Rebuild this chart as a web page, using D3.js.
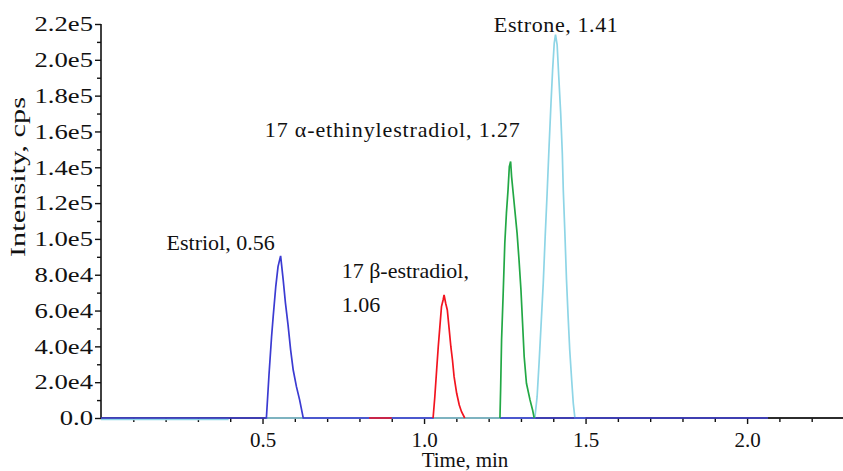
<!DOCTYPE html>
<html>
<head>
<meta charset="utf-8">
<script src="https://cdn.jsdelivr.net/npm/d3@7"></script>
<style>
  html, body { margin: 0; padding: 0; background: #fff; }
  svg { display: block; }
  text { font-family: "Liberation Serif", "Times New Roman", serif; fill: #111; }
</style>
</head>
<body>
<svg id="chart" width="843" height="471"></svg>
<script>
// ---- data (time in min, intensity in cps); null breaks a trace ----
const estriolTime = [0, 0.512, 0.520, 0.528, 0.533, 0.541, 0.548, 0.556, 0.559, 0.564, 0.571, 0.579, 0.587, 0.595, 0.605, 0.615, 0.626, 1.030, 1.130, 1.235, 2.065];
const estriolInt  = [0, 0, 24000, 45400, 56600, 73400, 84500, 90500, 85500, 77100, 64100, 52000, 38000, 26800, 17500, 10000, 0, 0, null, 0, 0];

const estradiolTime = [0.830, 0.900, 0.960, 1.028, 1.033, 1.039, 1.044, 1.049, 1.054, 1.059, 1.062, 1.067, 1.072, 1.078, 1.083, 1.088, 1.093, 1.101, 1.109, 1.116, 1.126];
const estradiolInt  = [0, 0, null, 0, 11000, 26800, 39800, 51000, 62200, 65900, 68700, 64100, 60300, 49200, 39800, 32400, 23100, 13800, 7300, 3500, 0];

const ethinylTime = [1.235, 1.237, 1.240, 1.245, 1.250, 1.255, 1.260, 1.264, 1.268, 1.271, 1.276, 1.281, 1.288, 1.294, 1.300, 1.305, 1.310, 1.317, 1.328, 1.336, 1.341];
const ethinylInt  = [0, 15600, 43600, 69700, 97600, 114400, 127400, 140400, 143200, 134800, 125500, 116200, 103200, 88300, 71500, 52900, 34200, 19400, 10100, 4500, 0];

const estroneTime = [0, 0.395, 0.450, 0.510, 1.343, 1.350, 1.356, 1.362, 1.369, 1.375, 1.381, 1.387, 1.393, 1.398, 1.403, 1.407, 1.412, 1.417, 1.423, 1.428, 1.431, 1.436, 1.441, 1.446, 1.451, 1.457, 1.462, 1.467, 1.500];
const estroneInt  = [-800, -800, null, 0, 0, 11900, 30500, 51000, 75200, 101300, 125500, 151600, 175800, 194400, 209300, 214000, 208400, 190700, 170200, 147900, 127400, 103200, 77100, 56600, 38000, 21200, 8200, 0, 0];

const otherTime = [2.065, 2.300];
const otherInt  = [0, 0];

const xMajorTicks = [0.5, 1.0, 1.5, 2.0];
const xMinorTicks = [0.1, 0.2, 0.3, 0.4, 0.6, 0.7, 0.8, 0.9, 1.1, 1.2, 1.3, 1.4, 1.6, 1.7, 1.8, 1.9, 2.1, 2.2];
const yMajorTicks = [0, 2e4, 4e4, 6e4, 8e4, 1e5, 1.2e5, 1.4e5, 1.6e5, 1.8e5, 2e5, 2.2e5];
const yMinorTicks = [1e4, 3e4, 5e4, 7e4, 9e4, 1.1e5, 1.3e5, 1.5e5, 1.7e5, 1.9e5, 2.1e5];

// annotation anchors in data units (left edge / baseline of text)
const labelText = ["Estriol, 0.56", "17 β-estradiol,", "1.06", "17 α-ethinylestradiol, 1.27", "Estrone, 1.41"];
const labelTime = [0.203, 0.745, 0.745, 0.507, 1.216];
const labelInt  = [93900, 78000, 59400, 157000, 215700];
const labelWidth = [null, null, null, 255, 124];

// ---- drawing ----
const svg = d3.select("#chart");
const x = d3.scaleLinear().domain([0, 2.3]).range([101, 844]);
const y = d3.scaleLinear().domain([0, 2.2e5]).range([418, 24]);

const fmtY = v => v === 0 ? "0.0" : v.toExponential(1).replace("e+", "e");

// y axis
const gy = svg.append("g").attr("transform", `translate(${x(0)},0)`)
  .call(d3.axisLeft(y).tickValues(yMajorTicks).tickFormat(fmtY).tickSize(6).tickPadding(2));
svg.append("g").attr("transform", `translate(${x(0)},0)`)
  .call(d3.axisLeft(y).tickValues(yMinorTicks).tickFormat("").tickSize(4))
  .call(g => g.select(".domain").remove());

// x axis
const gx = svg.append("g").attr("transform", `translate(0,${y(0)})`)
  .call(d3.axisBottom(x).tickValues(xMajorTicks).tickFormat(d3.format(".1f")).tickSize(6).tickPadding(8));
svg.append("g").attr("transform", `translate(0,${y(0)})`)
  .call(d3.axisBottom(x).tickValues(xMinorTicks).tickFormat("").tickSize(4))
  .call(g => g.select(".domain").remove());

svg.selectAll(".domain").attr("stroke", "#111").attr("stroke-width", 1.6);
svg.selectAll(".tick line").attr("stroke", "#111").attr("stroke-width", 1.4);
svg.selectAll(".tick text").attr("font-size", 21).attr("font-family", "Liberation Serif").attr("fill", "#111");
gx.selectAll(".domain").attr("d", `M${x(0)},0H${x(2.3)}`);
gy.selectAll(".domain").attr("d", `M0,${y(0)}V${y(2.2e5)}`);
// y tick labels are drawn wider in the reference
gy.selectAll(".tick text").each(function () {
  const w = this.getComputedTextLength();
  d3.select(this).attr("textLength", w * 1.27).attr("lengthAdjust", "spacingAndGlyphs");
});

// traces
const series = [
  { t: estroneTime, v: estroneInt, color: "#8ed5e6" },
  { t: estriolTime, v: estriolInt, color: "#3b3bd2" },
  { t: ethinylTime, v: ethinylInt, color: "#22a845" },
  { t: estradiolTime, v: estradiolInt, color: "#f2141f" },
  { t: otherTime, v: otherInt, color: "#222222" }
];
const line = d3.line()
  .defined(d => d[1] !== null)
  .x(d => x(d[0]))
  .y(d => y(d[1]));
const plot = svg.append("g");
series.forEach(s => {
  const pts = s.t.map((t, i) => [t, s.v[i]]);
  plot.append("path")
    .attr("d", line(pts))
    .attr("fill", "none")
    .attr("stroke", s.color)
    .attr("stroke-width", 1.7)
    .attr("stroke-linejoin", "miter");
});

// annotations
svg.append("g").selectAll("text")
  .data(labelText)
  .join("text")
  .attr("x", (d, i) => x(labelTime[i]))
  .attr("y", (d, i) => y(labelInt[i]))
  .attr("font-size", 22)
  .each(function (d, i) {
    if (labelWidth[i]) d3.select(this).attr("textLength", labelWidth[i]).attr("lengthAdjust", "spacing");
  })
  .text(d => d);

// axis titles
svg.append("text")
  .attr("x", 465).attr("y", 467)
  .attr("text-anchor", "middle").attr("font-size", 21)
  .text("Time, min");
svg.append("text")
  .attr("transform", `translate(25,177) rotate(-90)`)
  .attr("text-anchor", "middle").attr("font-size", 21)
  .attr("textLength", 160).attr("lengthAdjust", "spacingAndGlyphs")
  .text("Intensity, cps");
</script>
</body>
</html>
